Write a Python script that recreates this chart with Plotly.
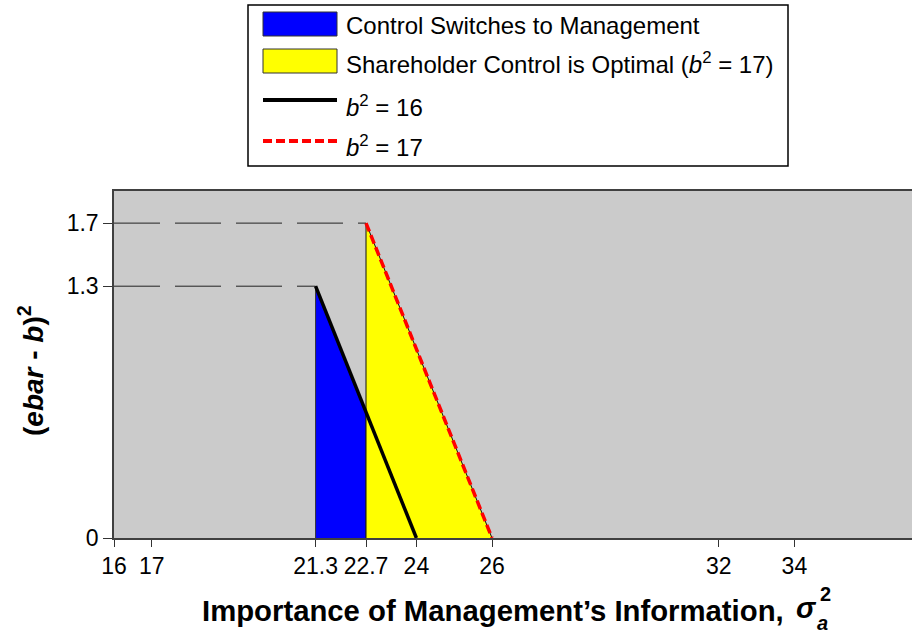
import plotly.graph_objects as go

# ---- data ----
x_tickvals = [16, 17, 21.333, 22.667, 24, 26, 32, 34]
x_ticktext = ["16", "17", "21.3", "22.7", "24", "26", "32", "34"]
y_tickvals = [0, 1.333, 1.667]
y_ticktext = ["0", "1.3", "1.7"]

b16_x = [21.333, 24]
b16_y = [1.333, 0]
b17_x = [22.667, 26]
b17_y = [1.667, 0]

switch_x = [21.333, 21.333, 22.667, 22.667]
switch_y = [0, 1.333, 0.667, 0]
optimal_x = [22.667, 22.667, 26]
optimal_y = [0, 1.667, 0]

x_min = 16

# ---- layout geometry (pixels) ----
W, H = 912, 635
ML, MR, MT, MB = 114, 0, 191, 97
PW, PH = W - ML - MR, H - MT - MB


def px(x):
    return (x - ML) / PW


def py(y):
    return (H - MB - y) / PH


FONT = "Liberation Sans, Arial, sans-serif"

fig = go.Figure()

fig.add_trace(go.Scatter(x=switch_x, y=switch_y, fill="toself", fillcolor="#0000FF",
                         mode="lines", line=dict(color="#333333", width=1),
                         showlegend=False, hoverinfo="skip"))
fig.add_trace(go.Scatter(x=optimal_x, y=optimal_y, fill="toself", fillcolor="#FFFF00",
                         mode="lines", line=dict(color="#111111", width=1),
                         showlegend=False, hoverinfo="skip"))
# guide lines to the peaks
fig.add_trace(go.Scatter(x=[x_min, b16_x[0]], y=[b16_y[0], b16_y[0]], mode="lines",
                         line=dict(color="#222222", width=1, dash="46px,15px"),
                         showlegend=False, hoverinfo="skip"))
fig.add_trace(go.Scatter(x=[x_min, b17_x[0]], y=[b17_y[0], b17_y[0]], mode="lines",
                         line=dict(color="#222222", width=1, dash="46px,15px"),
                         showlegend=False, hoverinfo="skip"))
fig.add_trace(go.Scatter(x=b16_x, y=b16_y, mode="lines",
                         line=dict(color="#000000", width=3.5),
                         showlegend=False, name="b2 = 16"))
fig.add_trace(go.Scatter(x=b17_x, y=b17_y, mode="lines",
                         line=dict(color="#FF0000", width=3.5, dash="9px,4px"),
                         showlegend=False, name="b2 = 17"))

# ---- manual legend ----
shapes = [
    dict(type="rect", xref="paper", yref="paper", x0=px(248), x1=px(788), y0=py(5), y1=py(166),
         line=dict(color="#000000", width=1.5), fillcolor="#FFFFFF", layer="above"),
    dict(type="rect", xref="paper", yref="paper", x0=px(263), x1=px(337), y0=py(12), y1=py(36),
         line=dict(color="#333333", width=1), fillcolor="#0000FF", layer="above"),
    dict(type="rect", xref="paper", yref="paper", x0=px(263), x1=px(337), y0=py(49), y1=py(73),
         line=dict(color="#333333", width=1), fillcolor="#FFFF00", layer="above"),
    dict(type="line", xref="paper", yref="paper", x0=px(263), x1=px(337), y0=py(100), y1=py(100),
         line=dict(color="#000000", width=4), layer="above"),
    dict(type="line", xref="paper", yref="paper", x0=px(263), x1=px(337), y0=py(141), y1=py(141),
         line=dict(color="#FF0000", width=4, dash="9px,4px"), layer="above"),
]

legend_texts = [
    ("Control Switches to Management", 25),
    ("Shareholder Control is Optimal (<i>b</i><sup>2</sup> = 17)", 63),
    ("<i>b</i><sup>2</sup> = 16", 106),
    ("<i>b</i><sup>2</sup> = 17", 146),
]
annotations = []
for txt, yy in legend_texts:
    annotations.append(dict(text=txt, xref="paper", yref="paper", x=px(344), y=py(yy),
                            xanchor="left", yanchor="middle", showarrow=False,
                            font=dict(family=FONT, size=24, color="#000000")))

# axis titles
annotations.append(dict(text="<b>(<i>ebar</i> - <i>b</i>)<sup>2</sup></b>", textangle=-90,
                        xref="paper", yref="paper", x=px(31), y=py(371),
                        xanchor="center", yanchor="middle", showarrow=False,
                        font=dict(family=FONT, size=28, color="#000000")))
annotations.append(dict(text="<b>Importance of Management’s Information,</b>",
                        xref="paper", yref="paper", x=px(786), y=py(610),
                        xanchor="right", yanchor="middle", showarrow=False,
                        font=dict(family=FONT, size=29.3, color="#000000")))
annotations.append(dict(text="<b><i>σ</i></b>",
                        xref="paper", yref="paper", x=px(794), y=py(608),
                        xanchor="left", yanchor="middle", showarrow=False,
                        font=dict(family=FONT, size=29, color="#000000")))
annotations.append(dict(text="<b><i>a</i></b>",
                        xref="paper", yref="paper", x=px(815), y=py(623),
                        xanchor="left", yanchor="middle", showarrow=False,
                        font=dict(family=FONT, size=20, color="#000000")))
annotations.append(dict(text="<b>2</b>",
                        xref="paper", yref="paper", x=px(818), y=py(594),
                        xanchor="left", yanchor="middle", showarrow=False,
                        font=dict(family=FONT, size=20, color="#000000")))

fig.update_layout(
    width=W, height=H,
    margin=dict(l=ML, r=MR, t=MT, b=MB, pad=0),
    paper_bgcolor="#FFFFFF",
    plot_bgcolor="#CBCBCB",
    showlegend=False,
    shapes=shapes,
    annotations=annotations,
    font=dict(family=FONT, size=23, color="#000000"),
    xaxis=dict(range=[x_min, x_min + PW / 37.8], tickmode="array", tickvals=x_tickvals,
               ticktext=x_ticktext, ticks="outside", ticklen=7, tickwidth=1, tickcolor="#333333",
               showline=True, linecolor="#404040", linewidth=1.5, mirror=True,
               showgrid=False, zeroline=False, tickangle=0,
               tickfont=dict(family=FONT, size=23, color="#000000")),
    yaxis=dict(range=[0, 1.837], tickmode="array", tickvals=y_tickvals, ticktext=y_ticktext,
               ticks="outside", ticklen=9, tickwidth=1, tickcolor="#333333",
               showline=True, linecolor="#404040", linewidth=1.5, mirror=False,
               showgrid=False, zeroline=False,
               tickfont=dict(family=FONT, size=23, color="#000000")),
)

fig.write_html(
    "out.html",
    config={"displayModeBar": False},
    post_script="document.body.style.margin='0';document.body.style.overflow='hidden';"
                "document.documentElement.style.overflow='hidden';",
)
